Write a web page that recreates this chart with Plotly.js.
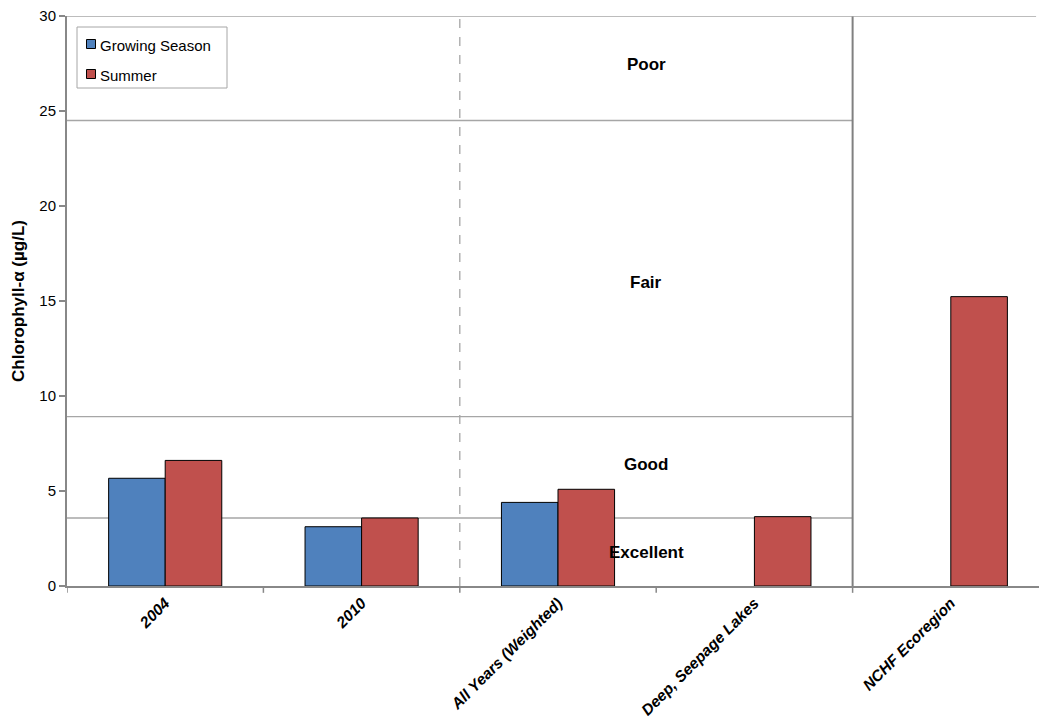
<!DOCTYPE html>
<html>
<head>
<meta charset="utf-8">
<script src="https://cdn.plot.ly/plotly-3.0.1.min.js"></script>
<style>html,body{margin:0;padding:0;background:#fff;}#chart{width:1039px;height:721px;}</style>
</head>
<body>
<div id="chart"></div>
<script>
const categories = ["2004", "2010", "All Years (Weighted)", "Deep, Seepage Lakes", "NCHF Ecoregion"];
const growingSeason = [5.67, 3.12, 4.40, null, null];
const summer = [6.61, 3.58, 5.09, 3.65, 15.23];
const thresholds = [3.58, 8.91, 24.5];
const classLabels = ["Excellent", "Good", "Fair", "Poor"];
const classLabelY = [1.74, 6.37, 16.0, 27.47];
const yTicks = [0, 5, 10, 15, 20, 25, 30];
const seriesNames = ["Growing Season", "Summer"];
const seriesColors = ["#4F81BD", "#C0504D"];

const idx = categories.map((c, i) => i);
const FONT = "Arial, Liberation Sans";

const traces = [
  {type: "bar", name: seriesNames[0], x: idx, y: growingSeason,
   marker: {color: seriesColors[0], line: {color: "#000", width: 1}}},
  {type: "bar", name: seriesNames[1], x: idx, y: summer,
   marker: {color: seriesColors[1], line: {color: "#000", width: 1}}}
];

const shapes = [];
thresholds.forEach(t => shapes.push({type: "line", xref: "x", yref: "y", x0: -0.5, x1: 3.5, y0: t, y1: t,
  line: {color: "#A6A6A6", width: 1.3}, layer: "below"}));
shapes.push({type: "line", xref: "x", yref: "y", x0: 1.5, x1: 1.5, y0: 0, y1: 30,
  line: {color: "#A6A6A6", width: 1.3, dash: "dash"}, layer: "below"});
shapes.push({type: "line", xref: "x", yref: "y", x0: 3.5, x1: 3.5, y0: -0.3, y1: 30,
  line: {color: "#808080", width: 2}, layer: "above"});
shapes.push({type: "line", xref: "paper", yref: "y", x0: 0, x1: 0.997, y0: 30, y1: 30,
  line: {color: "#A6A6A6", width: 1.3}});
// boundary ticks on x axis
[-0.5, 0.5, 1.5, 2.5, 3.5].forEach(b => shapes.push({type: "line", xref: "x", yref: "paper", x0: b, x1: b, y0: 0, y1: -0.012,
  line: {color: "#888", width: 1.5}}));

const annotations = classLabels.map((t, i) => ({
  text: "<b>" + t + "</b>", x: 2.45, y: classLabelY[i], xref: "x", yref: "y",
  showarrow: false, font: {family: FONT, size: 17, color: "#000"}
}));

// manual legend (paper coords; plot area 67..1039 x, 16..586 y)
const W = 972, H = 570, L = 67, T = 16;
const px = x => (x - L) / W;
const py = y => (T + H - y) / H;
shapes.push({type: "rect", xref: "paper", yref: "paper", x0: px(77), x1: px(227), y0: py(27), y1: py(88),
  line: {color: "#A6A6A6", width: 1}, fillcolor: "#fff", layer: "above"});
const legendY = [44, 74];
seriesNames.forEach((n, i) => {
  shapes.push({type: "rect", xref: "paper", yref: "paper", x0: px(86.5), x1: px(95.5), y0: py(legendY[i] - 4.5), y1: py(legendY[i] + 4.5),
    line: {color: "#000", width: 1}, fillcolor: seriesColors[i], layer: "above"});
  annotations.push({text: n, xref: "paper", yref: "paper", x: px(98), y: py(legendY[i] + 1), xanchor: "left", yanchor: "middle",
    showarrow: false, font: {family: FONT, size: 15, color: "#000"}});
});

const layout = {
  width: 1039, height: 721,
  margin: {l: 67, r: 0, t: 16, b: 135},
  paper_bgcolor: "#fff", plot_bgcolor: "#fff",
  barmode: "group", bargap: 0.424, bargroupgap: 0,
  font: {family: FONT, color: "#000"},
  xaxis: {
    range: [-0.5, 4.449], tickmode: "array", tickvals: idx,
    ticktext: categories.map(c => "<b><i>" + c + "</i></b>"),
    tickangle: -45, tickfont: {size: 15.5, family: FONT},
    showgrid: false, zeroline: false, showline: true, linecolor: "#888", linewidth: 2,
    ticks: "", fixedrange: true
  },
  yaxis: {
    range: [0, 30], tickvals: yTicks, ticks: "outside", ticklen: 6, tickcolor: "#888", tickwidth: 1.5,
    showgrid: false, zeroline: false, showline: true, linecolor: "#888", linewidth: 2,
    tickfont: {size: 15, family: FONT},
    title: {text: "<b>Chlorophyll-α (µg/L)</b>", font: {size: 17, family: FONT}, standoff: 10}
  },
  showlegend: false,
  shapes: shapes,
  annotations: annotations
};

Plotly.newPlot("chart", traces, layout, {displayModeBar: false, staticPlot: true});
</script>
</body>
</html>
